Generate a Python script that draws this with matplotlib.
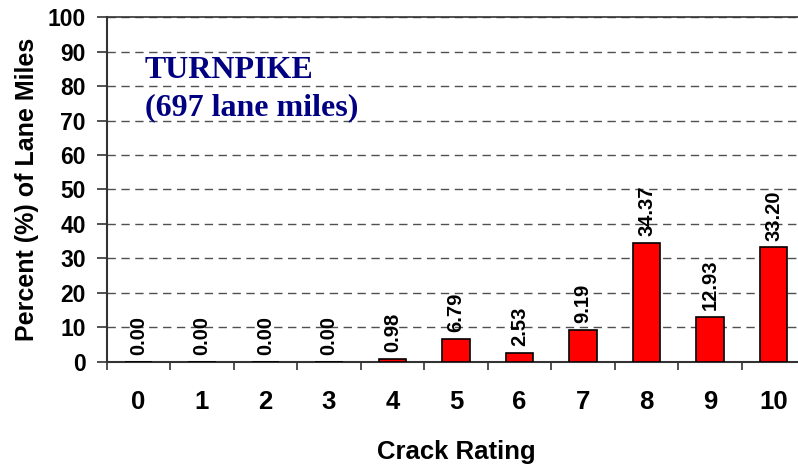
import matplotlib
matplotlib.use("Agg")
import matplotlib.pyplot as plt
import numpy as np

categories = ["0", "1", "2", "3", "4", "5", "6", "7", "8", "9", "10"]
values = [0.00, 0.00, 0.00, 0.00, 0.98, 6.79, 2.53, 9.19, 34.37, 12.93, 33.20]
yticks = list(range(0, 101, 10))

plt.rcParams['font.family'] = ['Liberation Sans', 'DejaVu Sans']

fig = plt.figure(figsize=(7.98, 4.66), dpi=100)
ax = fig.add_axes([0.1338, 0.2232, 0.8753, 0.7403])

x = np.arange(len(categories))
ax.bar(x, values, width=0.43, color='#ff0000', edgecolor='black', linewidth=1.2, zorder=3)

for xi, v in zip(x, values):
    ax.annotate(f"{v:.2f}", (xi, v), xytext=(0, 5), textcoords='offset points',
                rotation=90, ha='center', va='bottom', fontsize=14.5, fontweight='bold', zorder=4)

ax.set_xlim(-0.5, len(categories) - 0.5)
ax.set_ylim(0, 100)
ax.set_yticks(yticks)
ax.set_yticklabels([str(t) for t in yticks], fontsize=16.5, fontweight='bold')
ax.set_xticks(x)
ax.set_xticklabels(categories, fontsize=18.5, fontweight='bold')
ax.set_xticks(np.arange(-0.5, len(categories) + 0.5, 1), minor=True)
ax.tick_params(axis='x', which='major', length=0, pad=20)
ax.tick_params(axis='x', which='minor', length=6, width=1.2, direction='out', color='#333333')
ax.tick_params(axis='y', which='major', length=7, width=1.2, direction='out', pad=8, color='#333333')

ax.yaxis.grid(True, linestyle=(0, (6, 4)), color='#505050', linewidth=1.0, zorder=0)
ax.set_axisbelow(True)
ax.spines['right'].set_visible(False)
ax.spines['top'].set_linewidth(1.2)
ax.spines['top'].set_color('#333333')
ax.spines['left'].set_linewidth(1.5)
ax.spines['left'].set_color('#333333')
ax.spines['bottom'].set_linewidth(1.5)
ax.spines['bottom'].set_color('#333333')

ax.set_xlabel("Crack Rating", fontsize=18.5, fontweight='bold', labelpad=19)
ax.set_ylabel("Percent (%) of Lane Miles", fontsize=18, fontweight='bold', labelpad=6)

serif = ['Liberation Serif', 'DejaVu Serif']
ax.text(0.0548, 0.823, "TURNPIKE", transform=ax.transAxes, family=serif,
        fontsize=23, fontweight='bold', color='#000080', va='baseline', ha='left')
ax.text(0.0548, 0.716, "(697 lane miles)", transform=ax.transAxes, family=serif,
        fontsize=23, fontweight='bold', color='#000080', va='baseline', ha='left')

fig.savefig("out.png", dpi=100)
